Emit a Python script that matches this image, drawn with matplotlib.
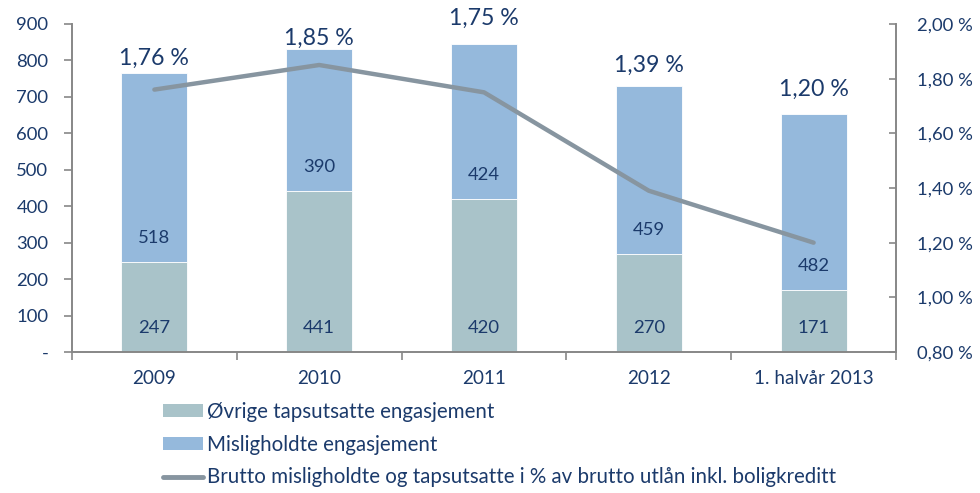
import matplotlib
matplotlib.use("Agg")
import matplotlib.pyplot as plt
from matplotlib.patches import Patch
from matplotlib.lines import Line2D

categories = ["2009", "2010", "2011", "2012", "1. halvår 2013"]
ovrige = [247, 441, 420, 270, 171]
mislig = [518, 390, 424, 459, 482]
pct = [1.76, 1.85, 1.75, 1.39, 1.20]
pct_labels = ["1,76 %", "1,85 %", "1,75 %", "1,39 %", "1,20 %"]
pct_label_y = [807, 862, 916, 787, 722]  # label heights in left-axis units
left_ticks = [0, 100, 200, 300, 400, 500, 600, 700, 800, 900]
left_ticklabels = ["-", "100", "200", "300", "400", "500", "600", "700", "800", "900"]
right_ticks = [0.8, 1.0, 1.2, 1.4, 1.6, 1.8, 2.0]
right_ticklabels = ["0,80 %", "1,00 %", "1,20 %", "1,40 %", "1,60 %", "1,80 %", "2,00 %"]
legend_labels = ["Øvrige tapsutsatte engasjement", "Misligholdte engasjement",
                 "Brutto misligholdte og tapsutsatte i % av brutto utlån inkl. boligkreditt"]

plt.rcParams['font.family'] = ['Lato', 'DejaVu Sans']
TXT = '#1B3A6B'
C_LOW = '#A9C3C9'
C_UP = '#95B9DC'
C_LINE = '#8795A0'
SPINE = '#878787'

fig = plt.figure(figsize=(9.8, 4.93), dpi=100)
ax = fig.add_axes([72/980, 1-352/493, (896-72)/980, (352-24)/493])
x = list(range(len(categories)))
w = 0.4
ax.bar(x, ovrige, width=w, color=C_LOW, edgecolor='white', linewidth=0.6, zorder=2)
ax.bar(x, mislig, width=w, bottom=ovrige, color=C_UP, edgecolor='white', linewidth=0.6, zorder=2)

for i in x:
    ax.annotate(str(ovrige[i]), (i, 0), xytext=(0, 17.3), textcoords='offset points',
                ha='center', va='center', fontsize=13.3, color=TXT)
    ax.annotate(str(mislig[i]), (i, ovrige[i]), xytext=(0, 17.3), textcoords='offset points',
                ha='center', va='center', fontsize=13.3, color=TXT)
    ax.text(i, pct_label_y[i], pct_labels[i], ha='center', va='center', fontsize=16.7,
            color=TXT, clip_on=False)

ax.set_xlim(-0.5, len(categories) - 0.5)
ax.set_ylim(0, 900)
ax.set_yticks(left_ticks)
ax.set_yticklabels(left_ticklabels)
ax.set_xticks(x)
ax.set_xticklabels(categories)
ax.set_xticks([k - 0.5 for k in range(len(categories) + 1)], minor=True)
ax.tick_params(axis='x', which='major', length=0, pad=13, labelsize=13.6, labelcolor=TXT)
ax.tick_params(axis='x', which='minor', length=6, direction='out', color=SPINE, width=1.2)
ax.tick_params(axis='y', length=6, direction='out', color=SPINE, width=1.2, labelsize=13.3,
               labelcolor=TXT, pad=11)
for s in ['top', 'right']:
    ax.spines[s].set_visible(False)
for s in ['left', 'bottom']:
    ax.spines[s].set_color(SPINE)
    ax.spines[s].set_linewidth(1.4)

ax2 = ax.twinx()
ax2.plot(x, pct, color=C_LINE, linewidth=3.2, solid_capstyle='round', zorder=3)
ax2.set_ylim(0.8, 2.0)
ax2.set_yticks(right_ticks)
ax2.set_yticklabels(right_ticklabels)
ax2.tick_params(axis='y', length=5, direction='in', color=SPINE, width=1.2, labelsize=13.3,
                labelcolor=TXT, pad=15)
for s in ['top', 'left', 'bottom']:
    ax2.spines[s].set_visible(False)
ax2.spines['right'].set_color(SPINE)
ax2.spines['right'].set_linewidth(1.4)

handles = [Patch(facecolor=C_LOW, edgecolor='none'), Patch(facecolor=C_UP, edgecolor='none'),
           Line2D([], [], color=C_LINE, linewidth=3.5, solid_capstyle='round')]
fig.legend(handles, legend_labels, loc='upper left', bbox_to_anchor=(163/980, 1-402/493),
           frameon=False, fontsize=14.8, labelcolor=TXT, borderpad=0, borderaxespad=0,
           handlelength=1.95, handletextpad=0.18, labelspacing=0.62, handleheight=0.58)

fig.savefig("out.png", dpi=100)
